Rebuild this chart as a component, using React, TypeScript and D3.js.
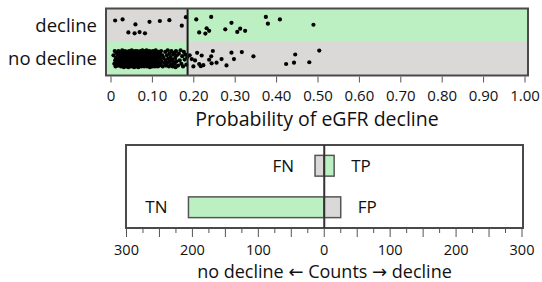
import React from "react";
import * as d3 from "d3";

// ---- data ----
const rows = ["decline", "no decline"];
const threshold = 0.185;
const probTicks = d3.range(0, 1.001, 0.1);

// [probability, jitter (-1..1)]
const declineDots: [number, number][] = [
  [0.010, -0.56], [0.028, -0.69], [0.042, 0.85], [0.057, 0.95], [0.059, -0.1], [0.069, 0.8],
  [0.082, 0.95], [0.093, -0.4], [0.118, -0.5], [0.141, -0.6], [0.171, 0.05], [0.181, -0.95],
  [0.206, -0.69], [0.213, 0.85], [0.228, 0.98], [0.231, 0.35], [0.237, 0.65], [0.242, -0.98],
  [0.276, 0.48], [0.291, -0.28], [0.305, 0.78], [0.312, 0.4], [0.324, 0.65], [0.374, -0.98],
  [0.379, -0.19], [0.408, -0.69], [0.489, -0.06],
];

const noDeclineDots: [number, number][] = [
  [0.006, -0.4], [0.008, 0.6], [0.009, -0.9], [0.010, 0.2], [0.011, 0.9], [0.012, -0.1], [0.013, -0.7], [0.014, 0.5], [0.015, 0.1], [0.016, -0.5],
  [0.017, 0.8], [0.018, -0.9], [0.019, 0.3], [0.020, -0.2], [0.021, 0.7], [0.022, -0.6], [0.023, 0.0], [0.024, 0.9], [0.025, -0.8], [0.025, 0.4],
  [0.026, -0.3], [0.027, 0.6], [0.027, -1.0], [0.028, 0.1], [0.028, -0.5], [0.029, 0.8], [0.029, -0.2], [0.030, 0.4], [0.030, -0.7], [0.031, 1.0],
  [0.032, -0.1], [0.033, 0.5], [0.034, -0.9], [0.034, 0.2], [0.035, -0.4],
  [0.036, 0.7], [0.037, -0.6], [0.038, 0.0], [0.038, 0.9], [0.039, -0.3], [0.040, 0.3], [0.040, -0.8], [0.041, 0.6], [0.042, -0.1], [0.042, 1.0],
  [0.043, -0.5], [0.044, 0.2], [0.044, -0.9], [0.045, 0.8], [0.045, -0.3], [0.046, 0.4], [0.047, -0.7], [0.047, 0.1], [0.048, 0.9], [0.048, -0.4],
  [0.049, 0.5], [0.050, -1.0], [0.050, 0.0], [0.051, 0.7], [0.051, -0.6], [0.052, 0.3], [0.053, -0.2], [0.053, 0.9], [0.054, -0.8], [0.054, 0.1],
  [0.055, 0.6], [0.055, -0.4], [0.056, 1.0], [0.057, -0.1], [0.057, 0.4], [0.058, -0.9], [0.058, 0.7], [0.059, -0.5], [0.060, 0.2], [0.060, -0.7],
  [0.061, 0.9], [0.061, -0.2], [0.062, 0.5], [0.063, -0.9], [0.063, 0.0], [0.064, 0.7], [0.064, -0.5], [0.065, 0.3], [0.066, -0.3], [0.066, 1.0],
  [0.067, -0.8], [0.067, 0.2], [0.068, 0.6], [0.069, -0.1], [0.069, -0.6], [0.070, 0.8], [0.070, 0.0], [0.071, -0.9], [0.072, 0.4], [0.072, -0.4],
  [0.073, 0.9], [0.073, -0.2], [0.074, 0.1], [0.075, -0.7], [0.075, 0.6], [0.076, -1.0], [0.076, 0.3], [0.077, -0.3], [0.077, 0.8], [0.078, 0.0],
  [0.078, -0.6], [0.079, 0.5], [0.079, -0.9], [0.080, 0.2], [0.080, 0.9], [0.081, -0.4], [0.081, 0.6], [0.082, -0.8], [0.082, 0.1], [0.083, -0.2],
  [0.084, 0.7], [0.084, -0.6], [0.085, 0.3], [0.086, -1.0], [0.086, 0.0], [0.087, 0.9], [0.088, -0.3], [0.088, 0.5], [0.089, -0.7], [0.090, 0.2],
  [0.090, -0.1], [0.091, 0.8], [0.092, -0.5], [0.092, 0.4], [0.093, -0.9], [0.094, 0.1], [0.094, 1.0], [0.095, -0.4], [0.096, 0.6], [0.096, -0.8],
  [0.097, 0.0], [0.098, 0.7], [0.098, -0.2], [0.099, -0.6], [0.100, 0.4], [0.100, 0.9], [0.101, -0.9], [0.102, 0.2], [0.103, -0.3], [0.103, 0.6],
  [0.104, -0.7], [0.105, 0.0], [0.106, 0.9], [0.106, -0.5], [0.107, 0.3], [0.108, -1.0], [0.109, 0.7], [0.110, -0.2], [0.110, 0.5], [0.111, -0.6],
  [0.112, 0.1], [0.113, 0.9], [0.114, -0.8], [0.115, 0.4], [0.116, -0.3], [0.117, 0.8], [0.118, -0.6], [0.119, 0.0], [0.120, 0.6], [0.121, -0.9],
  [0.122, 0.3], [0.124, -0.4], [0.125, 0.9], [0.127, -0.1], [0.129, 0.5],
  [0.131, -0.8], [0.132, 0.2], [0.133, 0.8], [0.135, -0.4], [0.136, 0.5], [0.137, -1.0], [0.138, 0.0], [0.140, 0.9], [0.141, -0.6], [0.142, 0.3],
  [0.144, -0.2], [0.145, 0.7], [0.146, -0.9], [0.148, 0.1], [0.149, 0.9], [0.150, -0.5], [0.151, 0.4], [0.153, -0.7], [0.154, 0.6], [0.155, -0.1],
  [0.156, 1.0], [0.157, -0.9], [0.158, 0.3], [0.159, -0.4],
  [0.162, 0.8], [0.164, -0.6], [0.166, 0.2], [0.168, -1.0], [0.170, 0.6], [0.172, -0.3], [0.174, 0.9], [0.176, -0.8], [0.178, 0.1], [0.180, -0.5],
  [0.182, 0.7], [0.184, -0.2],
  [0.190, -0.4], [0.195, 0.04], [0.199, 0.9], [0.203, 0.2], [0.208, -0.7], [0.213, 0.62], [0.219, -0.38], [0.217, 0.88], [0.223, 0.75],
  [0.237, 0.12], [0.242, -0.29], [0.246, -0.91], [0.243, 0.54], [0.255, 0.46], [0.267, 0.04], [0.279, 0.79], [0.291, -0.71],
  [0.297, 0.04], [0.316, -0.79], [0.344, -0.29], [0.423, 0.62], [0.442, 0.46], [0.445, -0.5], [0.479, 0.41], [0.503, -0.96],
];

// confusion counts: negative side = "no decline" prediction
const countRows = ["decline", "no decline"];
const counts = [
  { row: "decline", label: "FN", value: -14, correct: false },
  { row: "decline", label: "TP", value: 15, correct: true },
  { row: "no decline", label: "TN", value: -206, correct: true },
  { row: "no decline", label: "FP", value: 25, correct: false },
];
const countTicks = d3.range(-300, 301, 25);
const countLabels = d3.range(-300, 301, 100);

const GREEN = "#bcf0c3";
const GRAY = "#dbd8d8";
const FRAME = "#4a4a4a";
const FONT = "'Open Sans', 'DejaVu Sans', sans-serif";

export default function App() {
  // top panel
  const x = d3.scaleLinear().domain([0, 1]).range([111, 525]);
  const y = d3.scaleBand().domain(rows).range([8.5, 75.5]);
  const jit = d3.scaleLinear().domain([-1, 1]).range([-8.5, 8.5]);
  const fL = 106, fR = 528;
  const tx = x(threshold);

  // bottom panel
  const c = d3.scaleLinear().domain([-300, 300]).range([126.5, 522]);
  const cy = d3.scaleBand().domain(countRows).range([145, 228]).paddingInner(0.5).paddingOuter(0.25);
  const bL = 126, bR = 523, bT = 145, bB = 228;

  const dots = [
    ...declineDots.map(([p, j]) => ({ p, j, row: "decline" })),
    ...noDeclineDots.map(([p, j]) => ({ p, j, row: "no decline" })),
  ];

  return (
    <div style={{ position: "absolute", left: 0, top: 0 }}>
      <svg width={542} height={282} style={{ display: "block", fontFamily: FONT }}>
        {/* background regions */}
        {rows.map((r) => (
          <g key={r}>
            <rect x={fL} y={y(r)!} width={tx - fL} height={y.bandwidth()} fill={r === "decline" ? GRAY : GREEN} />
            <rect x={tx} y={y(r)!} width={fR - tx} height={y.bandwidth()} fill={r === "decline" ? GREEN : GRAY} />
            <text x={97} y={y(r)! + y.bandwidth() / 2 + 6.5} textAnchor="end" fontSize={18.5} fill="#111">{r}</text>
          </g>
        ))}
        {dots.map((d, i) => (
          <circle key={i} cx={x(d.p)} cy={y(d.row)! + y.bandwidth() / 2 + jit(d.j)} r={2.1} fill="#000" />
        ))}
        <line x1={tx} x2={tx} y1={y.range()[0]} y2={y.range()[1]} stroke="#1a1a1a" strokeWidth={2} />
        <rect x={fL} y={y.range()[0]} width={fR - fL} height={y.range()[1] - y.range()[0]} fill="none" stroke={FRAME} strokeWidth={2} />
        {probTicks.map((t) => (
          <g key={t}>
            <line x1={x(t)} x2={x(t)} y1={y.range()[1] + 1} y2={y.range()[1] + 7} stroke="#555" strokeWidth={1} />
            <text x={x(t)} y={100.5} textAnchor="middle" fontSize={15} fill="#111">
              {t === 0 ? "0" : d3.format(".2f")(t)}
            </text>
          </g>
        ))}
        <text x={(fL + fR) / 2} y={126} textAnchor="middle" fontSize={19.5} fill="#111">Probability of eGFR decline</text>

        {/* counts panel */}
        <rect x={bL} y={bT} width={bR - bL} height={bB - bT} fill="#fff" stroke={FRAME} strokeWidth={2} />
        {counts.map((d) => {
          const x0 = c(Math.min(0, d.value));
          const x1 = c(Math.max(0, d.value));
          const yy = cy(d.row)!;
          const h = cy.bandwidth();
          const neg = d.value < 0;
          return (
            <g key={d.label}>
              <rect x={x0} y={yy} width={x1 - x0} height={h} fill={d.correct ? GREEN : GRAY} stroke="#555" strokeWidth={1.5} />
              <text
                x={neg ? x0 - 21 : x1 + 17}
                y={yy + h / 2 + 6}
                textAnchor={neg ? "end" : "start"}
                fontSize={17}
                fill="#111"
              >
                {d.label}
              </text>
            </g>
          );
        })}
        <line x1={c(0)} x2={c(0)} y1={bT} y2={bB} stroke="#333" strokeWidth={2} />
        {countTicks.map((t) => (
          <line key={t} x1={c(t)} x2={c(t)} y1={bB + 1} y2={bB + (t % 50 === 0 ? 9 : 5)} stroke="#555" strokeWidth={1} />
        ))}
        {countLabels.map((t) => (
          <text key={t} x={c(t)} y={254.5} textAnchor="middle" fontSize={14.5} fill="#111">{Math.abs(t)}</text>
        ))}
        <text x={(bL + bR) / 2} y={277.5} textAnchor="middle" fontSize={18} fill="#111">no decline ← Counts → decline</text>
      </svg>
    </div>
  );
}
